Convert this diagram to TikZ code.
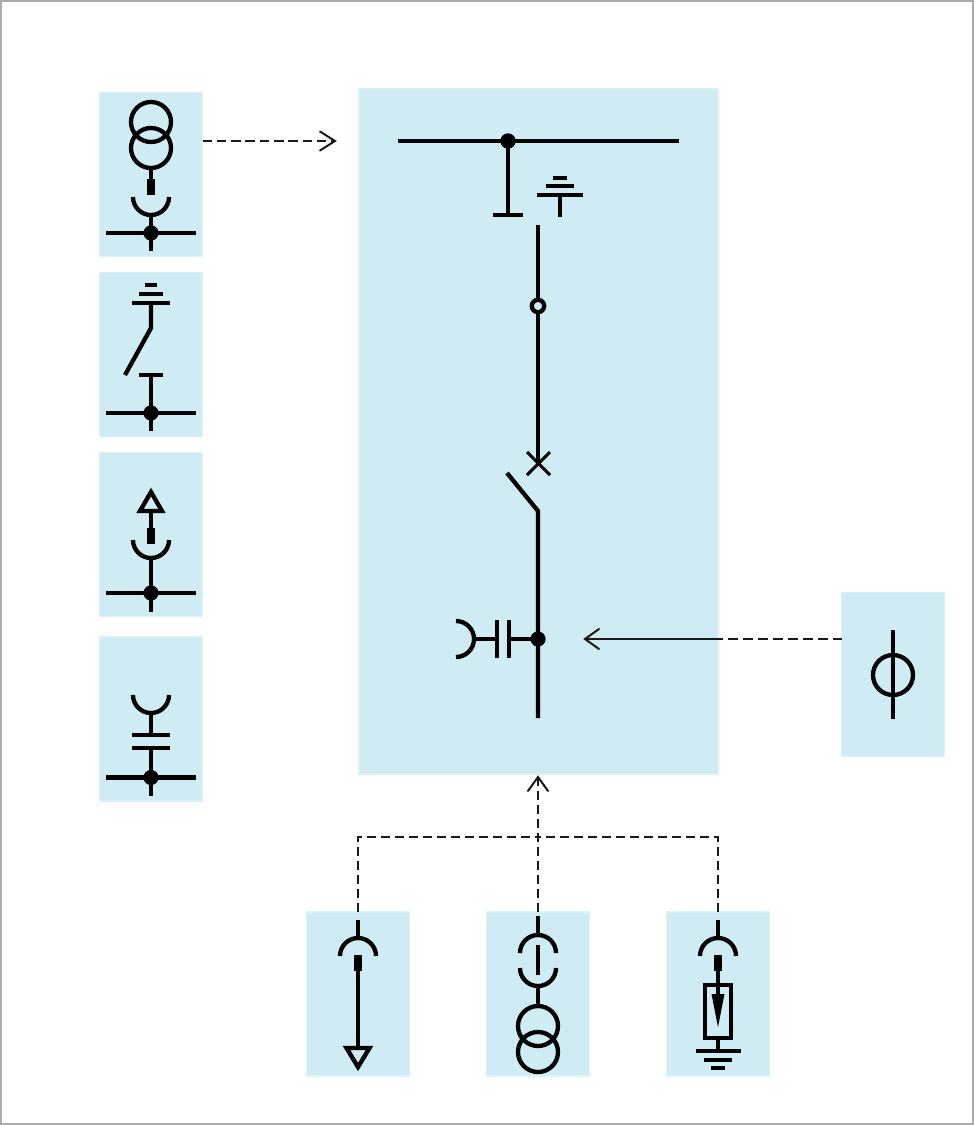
\documentclass[tikz,border=0pt]{standalone}
\usetikzlibrary{arrows.meta}
\definecolor{panel}{HTML}{CFEBF4}
\definecolor{paneledge}{HTML}{DCF1F7}
\definecolor{framegray}{HTML}{ABABAB}
\newcommand{\cupdown}[2]{\draw[sym] (#1-18,#2) arc[start angle=180,end angle=360,radius=18pt];}
\newcommand{\capup}[2]{\draw[sym] (#1-18,#2) arc[start angle=180,end angle=0,radius=18pt];}
\newcommand{\plugbar}[2]{\fill (#1-4,#2) rectangle (#1+4,#2+16);}
\newcommand{\hseg}[3]{\draw[sym] (#1,#3) -- (#2,#3);}
\newcommand{\busdot}[2]{\fill (#1,#2) circle[radius=7.6pt];}
\tikzset{
  sym/.style={line width=4.3pt,line cap=butt,line join=miter},
  panelbox/.style={draw=paneledge,line width=1.2pt,fill=panel,anchor=north west,inner sep=0pt,outer sep=0pt},
  smallpanel/.style={panelbox,minimum width=103pt,minimum height=164pt},
  link/.style={line width=2pt,draw=black!90,dash pattern=on 10pt off 5pt},
  solidlink/.style={line width=2pt,draw=black!90},
  openhead/.style={line width=2pt,draw=black!90,line cap=round,line join=miter}
}
\begin{document}
\begin{tikzpicture}[x=1pt,y=-1pt]
\useasboundingbox (0,0) rectangle (974,1125);
\draw[framegray,line width=2pt,fill=white] (1,1) rectangle (973,1124);
% panels
\node[smallpanel] (p1) at (99.5,92.5) {};
\node[smallpanel] (p2) at (99.5,272.5) {};
\node[smallpanel] (p3) at (99.5,452.5) {};
\node[smallpanel] (p4) at (99.5,637) {};
\node[panelbox,minimum width=359pt,minimum height=685pt] (main) at (359,89) {};
\node[smallpanel] (pr) at (841.5,592.5) {};
\node[smallpanel] (b1) at (306.5,912) {};
\node[smallpanel] (b2) at (486.5,912) {};
\node[smallpanel] (b3) at (666.5,912) {};
% connectors
\coordinate (t1) at (335,141);
\coordinate (s1) at (p1.east |- t1);
\draw[link,dash pattern=on 9.5pt off 4.8pt] (s1) -- (t1);
\draw[openhead] (320,131.5) -- (t1) -- (320,150.5);
\coordinate (t2) at (585,639);
\coordinate (m2) at (723,639);
\coordinate (s2) at (pr.west |- t2);
\draw[solidlink] (t2) -- (m2);
\draw[link] (728,639) -- (s2);
\draw[openhead] (599,629) -- (t2) -- (599,649);
\coordinate (t3) at (538,777);
\coordinate (j) at (538,837);
\draw[link,dash pattern=on 9pt off 5pt] (b2.north) -- (t3);
\draw[link,dash pattern=on 9pt off 5pt] (b1.north) |- (j);
\draw[link,dash pattern=on 9pt off 5pt] (b3.north) |- (j);
\draw[openhead] (528,791) -- (t3) -- (548,791);
% panel 1
\draw[sym] (151,122) circle[radius=20pt];
\draw[sym] (151,148) circle[radius=20pt];
\draw[sym] (151,168) -- (151,180);
\plugbar{151}{179}
\cupdown{151}{197}
\draw[sym] (151,215) -- (151,251);
\hseg{106}{196}{233}
\busdot{151}{233}
% panel 2
\hseg{145}{157}{285}
\hseg{139}{163}{294}
\hseg{132}{170}{303}
\draw[sym] (151,303) -- (151,328) -- (125,375);
\hseg{139}{163}{375}
\draw[sym] (151,375) -- (151,431);
\hseg{106}{196}{413}
\busdot{151}{413}
% panel 3
\draw[sym] (151,492) -- (162,511) -- (140,511) -- cycle;
\draw[sym] (151,511) -- (151,528);
\plugbar{151}{528}
\cupdown{151}{540}
\draw[sym] (151,558) -- (151,612);
\hseg{106}{196}{593}
\busdot{151}{593}
% panel 4
\cupdown{151}{695}
\draw[sym] (151,713) -- (151,735);
\hseg{132}{170}{735}
\hseg{132}{170}{748}
\draw[sym] (151,748) -- (151,796);
\hseg{106}{196}{777.5}
\busdot{151}{777.5}
% main panel
\hseg{397.5}{678.5}{141}
\draw[sym] (508,141) -- (508,215);
\hseg{493}{523}{215}
\fill (508,141) circle[radius=7.7pt];
\hseg{553}{567}{178}
\hseg{546}{574}{186}
\hseg{537}{583}{195}
\draw[sym] (560,195) -- (560,216.5);
\draw[sym] (538,225) -- (538,463);
\draw[sym,fill=panel] (538,306) circle[radius=6.2pt];
\draw[line width=3pt] (527,452) -- (550,475);
\draw[line width=3pt] (550,452) -- (527,475);
\draw[sym] (507,473) -- (538,511) -- (538,718);
\fill (538,639) circle[radius=7.6pt];
\draw[sym] (538,639) -- (509,639);
\draw[sym] (509,620) -- (509,658);
\draw[sym] (497,620) -- (497,658);
\draw[sym] (497,639) -- (475,639);
\draw[sym] (456,621) arc[start angle=90,end angle=-90,radius=18pt];
% right panel
\draw[sym] (893,675) circle[radius=20pt];
\draw[sym] (893,630) -- (893,719);
% bottom 1
\draw[sym] (358,920) -- (358,937);
\capup{358}{956}
\plugbar{358}{955}
\draw[sym] (358,971) -- (358,1048);
\draw[sym] (358,1067) -- (369.5,1048) -- (346.5,1048) -- cycle;
% bottom 2
\draw[sym] (538,916) -- (538,935);
\capup{538}{953}
\draw[sym] (538,945) -- (538,975);
\cupdown{538}{968}
\draw[sym] (538,986) -- (538,1006);
\draw[sym] (538,1026) circle[radius=20pt];
\draw[sym] (538,1052) circle[radius=20pt];
% bottom 3
\draw[sym] (718,920) -- (718,937);
\capup{718}{956}
\plugbar{718}{955}
\draw[sym] (718,971) -- (718,996);
\draw[sym] (704.7,985) rectangle (731.3,1038);
\fill (711.5,994) -- (724.5,994) -- (718,1027) -- cycle;
\draw[sym] (718,1038) -- (718,1051);
\hseg{696}{741}{1051}
\hseg{704}{732}{1060}
\hseg{711}{725}{1068}
\end{tikzpicture}
\end{document}
